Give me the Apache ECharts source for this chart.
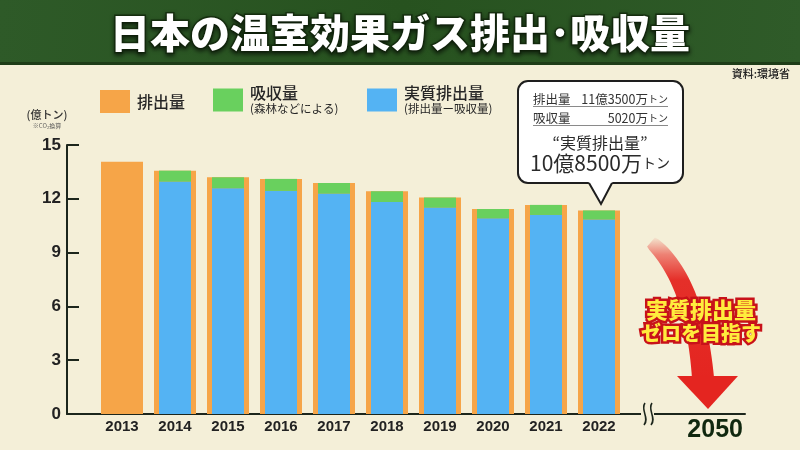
<!DOCTYPE html>
<html><head><meta charset="utf-8">
<script src="https://cdn.jsdelivr.net/npm/echarts@6/dist/echarts.min.js"></script>
<style>html,body{margin:0;padding:0;background:#f4efd8}#c{width:800px;height:450px}</style>
</head><body><div id="c"></div>
<script>
// ---- data (億トン, CO2換算) ----
const years = ['2013','2014','2015','2016','2017','2018','2019','2020','2021','2022'];
const emission = [14.07, 13.57, 13.20, 13.11, 12.88, 12.42, 12.07, 11.43, 11.66, 11.35];
const netEmission = [null, 12.96, 12.59, 12.44, 12.29, 11.82, 11.51, 10.91, 11.10, 10.85];
const absorption = [null, 0.61, 0.61, 0.67, 0.59, 0.60, 0.56, 0.52, 0.56, 0.50];
const targetLabels = ['', '2050'];
const yMin = 0, yMax = 15, yStep = 3;

const CJK = "'Noto Sans CJK JP', sans-serif";
const NUM = "'Liberation Sans Narrow', 'Liberation Sans', Arial, sans-serif";
const NUMW = "'Liberation Sans', Arial, sans-serif";
const DARK = '#1c261c';

// curved red arrow body
function arrowBody() {
  const p0 = [651, 242], p1 = [695, 280], p2 = [703, 378];
  const left = [], right = [];
  const N = 30;
  for (let i = 0; i <= N; i++) {
    const t = i / N, u = 1 - t;
    const x = u*u*p0[0] + 2*u*t*p1[0] + t*t*p2[0];
    const y = u*u*p0[1] + 2*u*t*p1[1] + t*t*p2[1];
    const dx = 2*u*(p1[0]-p0[0]) + 2*t*(p2[0]-p1[0]);
    const dy = 2*u*(p1[1]-p0[1]) + 2*t*(p2[1]-p1[1]);
    const len = Math.hypot(dx, dy);
    const nx = -dy/len, ny = dx/len;
    const w = (12 + 10*Math.sqrt(t)) / 2;
    left.push([x + nx*w, y + ny*w]);
    right.push([x - nx*w, y - ny*w]);
  }
  return left.concat(right.reverse());
}

const chart = echarts.init(document.getElementById('c'), null, {renderer: 'canvas'});
const yAxisBase = {min: yMin, max: yMax, interval: yStep, type: 'value'};

chart.setOption({
  backgroundColor: '#f4efd8',
  animation: false,
  title: {
    text: '日本の温室効果ガス排出･吸収量',
    left: 'center', top: 8,
    textStyle: {
      fontFamily: CJK, fontSize: 40, fontWeight: 900, color: '#ffffff',
      textBorderColor: '#16300f', textBorderWidth: 3,
      textShadowColor: 'rgba(0,0,0,0.5)', textShadowBlur: 4, textShadowOffsetY: 2
    }
  },
  legend: [
    {data: ['排出量'], left: 100, top: 90},
    {data: ['吸収量'], left: 213, top: 85},
    {data: ['実質排出量'], left: 367, top: 85}
  ].map(l => Object.assign(l, {
    icon: 'rect', itemWidth: 30, itemHeight: 23, selectedMode: false, padding: 0,
    formatter: n => n === '排出量' ? '{a|排出量}'
      : n === '吸収量' ? '{a|吸収量}\n{b|(森林などによる)}'
      : '{a|実質排出量}\n{b|(排出量ー吸収量)}',
    textStyle: {
      padding: [0, 0, 0, 2],
      rich: {
        a: {fontFamily: CJK, fontSize: 16, color: '#262626', lineHeight: 18, fontWeight: 500},
        b: {fontFamily: CJK, fontSize: 11.5, color: '#262626', lineHeight: 14}
      }
    }
  })),
  grid: [
    {left: 67, right: 55, top: 145, bottom: 36},
    {left: 95.5, width: 530, top: 145, bottom: 36},
    {left: 625.5, right: 55, top: 145, bottom: 36}
  ],
  xAxis: [
    {type: 'value', gridIndex: 0, min: 0, max: 1,
     axisLine: {show: true, lineStyle: {color: DARK, width: 2}},
     axisTick: {show: false}, axisLabel: {show: false}, splitLine: {show: false}},
    {type: 'category', gridIndex: 1, data: years,
     axisLine: {show: false}, axisTick: {show: false},
     axisLabel: {interval: 0, fontFamily: NUM, fontSize: 15, fontWeight: 'bold', color: '#222', margin: 5}},
    {type: 'category', gridIndex: 1, data: years, show: false},
    {type: 'category', gridIndex: 2, data: targetLabels,
     axisLine: {show: false}, axisTick: {show: false},
     axisLabel: {show: true, interval: 0, hideOverlap: false, fontFamily: NUM, fontSize: 25, fontWeight: 'bold', color: '#10280f', margin: 4}}
  ],
  yAxis: [
    Object.assign({gridIndex: 0,
      axisLine: {show: true, lineStyle: {color: DARK, width: 2}},
      axisTick: {show: true, inside: true, length: 12, lineStyle: {color: DARK, width: 2}},
      axisLabel: {fontFamily: NUMW, fontSize: 17, fontWeight: 'bold', color: '#222', margin: 6},
      splitLine: {show: false}}, yAxisBase),
    Object.assign({gridIndex: 1, show: false, splitLine: {show: false}}, yAxisBase),
    Object.assign({gridIndex: 2, show: false, splitLine: {show: false}}, yAxisBase)
  ],
  series: [
    {name: '排出量', type: 'bar', xAxisIndex: 1, yAxisIndex: 1, data: emission,
     barWidth: 42, itemStyle: {color: '#f6a548'}, z: 2},
    {name: '実質排出量', type: 'bar', xAxisIndex: 2, yAxisIndex: 1, data: netEmission,
     stack: 'net', barWidth: 32, itemStyle: {color: '#54b3f3'}, z: 3},
    {name: '吸収量', type: 'bar', xAxisIndex: 2, yAxisIndex: 1, data: absorption,
     stack: 'net', barWidth: 32, itemStyle: {color: '#69d05e'}, z: 3}
  ],
  graphic: [
    // title band
    {type: 'rect', z: -10, shape: {x: 0, y: 0, width: 800, height: 65},
     style: {fill: {type: 'linear', x: 0, y: 0, x2: 1, y2: 1, colorStops: [
       {offset: 0, color: '#2e5a28'}, {offset: 0.5, color: '#27521f'}, {offset: 1, color: '#2f5b29'}]}}},
    {type: 'rect', z: -9, shape: {x: 0, y: 62, width: 800, height: 3}, style: {fill: '#1e3d18'}},
    // source
    {type: 'text', x: 790, y: 74, style: {text: '資料:環境省', font: `500 11px ${CJK}`, fill: '#222',
      textAlign: 'right', textVerticalAlign: 'middle'}},
    // unit
    {type: 'text', x: 47, y: 115, style: {text: '(億トン)', font: `500 11px ${CJK}`, fill: '#333',
      textAlign: 'center', textVerticalAlign: 'middle'}},
    {type: 'text', x: 47, y: 126, style: {text: '※CO₂換算', font: `6px ${CJK}`, fill: '#555',
      textAlign: 'center', textVerticalAlign: 'middle'}},
    // axis break
    {type: 'rect', z: 20, shape: {x: 641, y: 411, width: 13, height: 6}, style: {fill: '#f4efd8'}},
    {type: 'bezierCurve', z: 21, shape: {x1: 645, y1: 403, cpx1: 640, cpy1: 410, cpx2: 650, cpy2: 418, x2: 644, y2: 425},
     style: {stroke: DARK, lineWidth: 1.6, fill: null}},
    {type: 'bezierCurve', z: 21, shape: {x1: 652, y1: 403, cpx1: 647, cpy1: 410, cpx2: 657, cpy2: 418, x2: 651, y2: 425},
     style: {stroke: DARK, lineWidth: 1.6, fill: null}},
    // red arrow
    {type: 'polygon', z: 5, shape: {points: arrowBody()},
     style: {fill: {type: 'linear', x: 0, y: 0, x2: 0, y2: 1, colorStops: [
       {offset: 0, color: 'rgba(232,40,34,0.05)'}, {offset: 0.12, color: 'rgba(232,40,34,0.55)'},
       {offset: 0.3, color: 'rgba(228,37,32,0.95)'}, {offset: 1, color: '#e42520'}]}}},
    {type: 'polygon', z: 5, shape: {points: [[677, 376], [738, 376], [708, 409]]}, style: {fill: '#e42520'}},
    {type: 'text', z: 6, x: 701, y: 310, style: {text: '実質排出量', font: `900 22px ${CJK}`, fill: '#ffec3d',
      stroke: '#c8121a', lineWidth: 5, textAlign: 'center', textVerticalAlign: 'middle'}},
    {type: 'text', z: 6, x: 701, y: 333, style: {text: 'ゼロを目指す', font: `900 20px ${CJK}`, fill: '#ffec3d',
      stroke: '#c8121a', lineWidth: 5, textAlign: 'center', textVerticalAlign: 'middle'}},
    // callout
    {type: 'rect', z: 10, shape: {x: 518, y: 81, width: 165, height: 102, r: 10},
     style: {fill: '#ffffff', stroke: '#1e1e1e', lineWidth: 2}},
    {type: 'polygon', z: 11, shape: {points: [[588, 181], [601, 204], [613, 181]]}, style: {fill: '#ffffff'}},
    {type: 'polyline', z: 12, shape: {points: [[589, 183], [601, 204], [612, 183]]},
     style: {stroke: '#1e1e1e', lineWidth: 2, fill: null}},
    {type: 'line', z: 12, shape: {x1: 533, y1: 106.5, x2: 668, y2: 106.5}, style: {stroke: '#8a8a8a', lineWidth: 1}},
    {type: 'line', z: 12, shape: {x1: 533, y1: 125.5, x2: 668, y2: 125.5}, style: {stroke: '#8a8a8a', lineWidth: 1}},
    {type: 'text', z: 12, x: 533, y: 99, style: {text: '排出量', font: `12.5px ${CJK}`, fill: '#333',
      textAlign: 'left', textVerticalAlign: 'middle'}},
    {type: 'text', z: 12, x: 668, y: 99, style: {text: '11億3500万{s|トン}', font: `12.5px ${CJK}`, fill: '#333',
      textAlign: 'right', textVerticalAlign: 'middle', rich: {s: {font: `10px ${CJK}`, fill: '#333'}}}},
    {type: 'text', z: 12, x: 533, y: 118, style: {text: '吸収量', font: `12.5px ${CJK}`, fill: '#333',
      textAlign: 'left', textVerticalAlign: 'middle'}},
    {type: 'text', z: 12, x: 668, y: 118, style: {text: '5020万{s|トン}', font: `12.5px ${CJK}`, fill: '#333',
      textAlign: 'right', textVerticalAlign: 'middle', rich: {s: {font: `10px ${CJK}`, fill: '#333'}}}},
    {type: 'text', z: 12, x: 600, y: 143, style: {text: '“実質排出量”', font: `16px ${CJK}`, fill: '#2a2a2a',
      textAlign: 'center', textVerticalAlign: 'middle'}},
    {type: 'text', z: 12, x: 600, y: 163, style: {text: '10億8500万{s|トン}', font: `21px ${CJK}`, fill: '#2a2a2a',
      textAlign: 'center', textVerticalAlign: 'middle', rich: {s: {font: `14px ${CJK}`, fill: '#2a2a2a'}}}}
  ]
});
</script></body></html>
